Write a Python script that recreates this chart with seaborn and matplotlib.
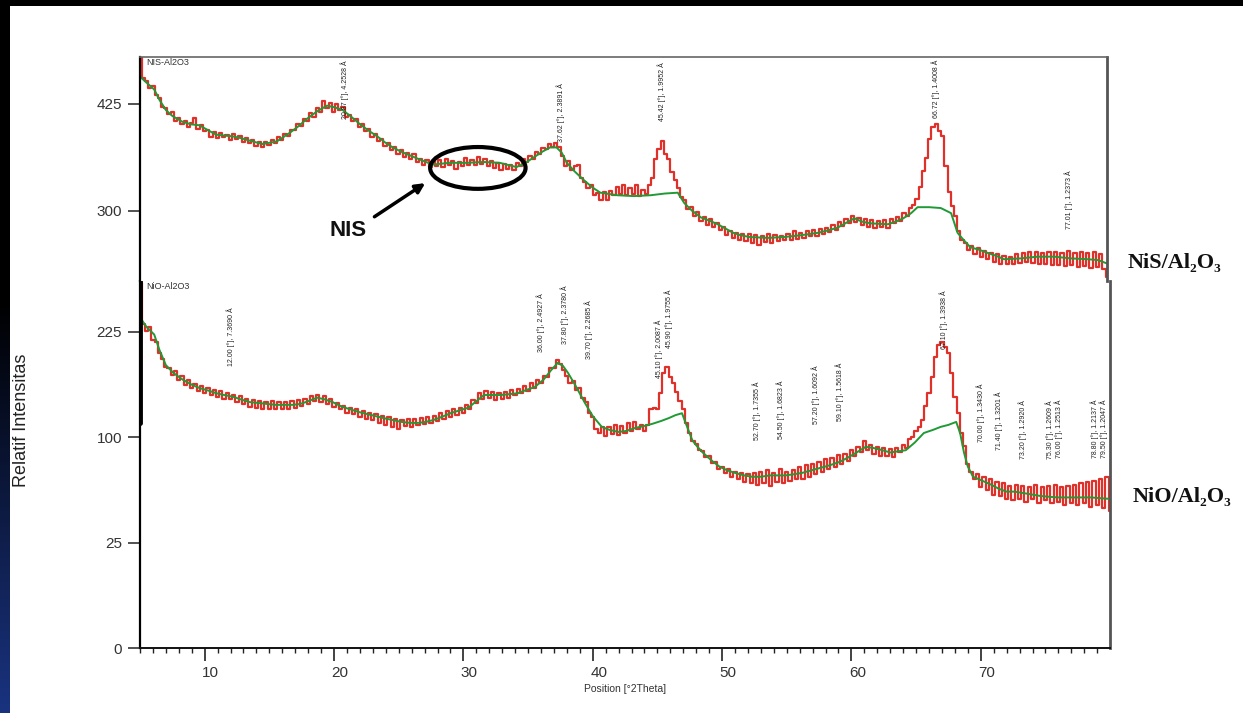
import numpy as np
import matplotlib
matplotlib.use("Agg")
import matplotlib.pyplot as plt
import seaborn as sns
import pandas as pd
from matplotlib.patches import Ellipse, Rectangle
from matplotlib.ticker import FixedLocator, MultipleLocator, NullLocator
import matplotlib.transforms as mtransforms

# ---------------- data ----------------
two_theta_start = 5.0
two_theta_step = 0.25

# NiS/Al2O3 observed counts (linear scale), 5.00 .. 80.00 deg every 0.25 deg
nis_observed = [
    490, 455, 452, 444,  446, 436, 432, 421,  420, 413, 415, 405,  409, 401, 405, 398,
    403, 408, 396, 400,  393, 394, 386, 392,  385, 391, 386, 389,  383, 390, 384, 387,
    380, 385, 379, 383,  376, 380, 375, 380,  377, 383, 379, 386,  383, 390, 388, 395,
    394, 401, 399, 407,  405, 414, 410, 420,  416, 428, 420, 426,  416, 425, 418, 421,
    410, 412, 405, 407,  398, 401, 393, 396,  386, 390, 382, 384,  376, 379, 371, 375,
    366, 371, 363, 367,  360, 366, 357, 361,  353, 359, 351, 358,  352, 359, 351, 360,
    353, 358, 349, 357,  352, 362, 354, 359,  353, 363, 355, 360,  352, 358, 350, 356,
    348, 355, 349, 353,  348, 356, 352, 360,  357, 364, 360, 369,  366, 373, 372, 378,
    375, 379, 374, 364,  352, 358, 348, 352,  354, 338, 334, 326,  330, 318, 321, 312,
    322, 313, 323, 318,  328, 320, 330, 318,  326, 319, 330, 317,  324, 320, 330, 338,
    360, 372, 381, 366,  360, 345, 336, 326,  316, 312, 302, 304,  294, 298, 288, 293,
    283, 290, 281, 285,  277, 281, 271, 276,  268, 274, 265, 273,  264, 272, 262, 271,
    260, 270, 263, 272,  262, 271, 264, 270,  265, 272, 266, 276,  267, 274, 268, 276,
    270, 277, 270, 279,  273, 280, 275, 283,  277, 287, 282, 290,  286, 294, 287, 291,
    283, 290, 281, 289,  280, 288, 281, 289,  280, 290, 285, 293,  288, 297, 294, 303,
    306, 314, 328, 346,  362, 384, 398, 402,  393, 388, 352, 322,  305, 294, 276, 266,
    262, 254, 259, 249,  256, 246, 253, 243,  250, 240, 249, 238,  247, 237, 246, 238,
    249, 239, 250, 240,  252, 239, 251, 238,  250, 237, 252, 236,  251, 236, 250, 235,
    253, 236, 250, 234,  252, 235, 250, 233,  251, 234, 249, 232,  222,
]

# NiS/Al2O3 fitted background (2theta, counts)
nis_background = [
    (5.0, 457), (5.5, 450), (6.1, 442), (6.5, 430), (7.0, 418), (7.5, 411), (8.3, 404),
    (9.0, 401), (9.6, 400), (10.3, 394), (10.9, 389), (11.5, 388), (12.2, 387), (12.8, 385),
    (13.5, 382), (14.5, 378), (15.6, 381), (16.6, 391), (17.3, 399), (17.9, 407), (18.7, 416),
    (19.5, 423), (20.1, 421), (20.7, 418), (21.3, 411), (22.0, 402), (22.7, 394), (23.4, 387),
    (24.0, 380), (24.6, 374), (25.4, 368), (26.2, 363), (27.0, 358), (27.7, 354), (28.4, 355),
    (29.0, 356), (30.4, 356), (31.6, 357), (32.9, 356), (34.2, 351), (34.9, 356), (35.5, 362),
    (36.2, 369), (36.8, 374), (37.3, 374), (37.7, 368), (38.1, 356), (38.7, 346), (39.4, 336),
    (40.1, 327), (40.7, 321), (42.0, 318), (43.3, 317), (44.6, 318), (45.7, 320), (46.7, 321),
    (47.2, 309), (47.8, 300), (48.5, 292), (49.2, 288), (49.8, 284), (50.4, 279), (51.0, 274),
    (51.6, 271), (52.3, 269), (53.7, 268), (54.9, 269), (56.2, 271), (57.6, 274), (58.4, 277),
    (59.1, 280), (59.8, 286), (60.4, 291), (61.0, 287), (61.7, 285), (63.0, 284), (63.6, 287),
    (64.2, 291), (64.8, 297), (65.3, 304), (66.2, 304), (67.1, 303), (67.9, 297), (68.4, 274),
    (68.9, 265), (69.4, 257), (70.1, 254), (70.8, 250), (71.4, 247), (72.0, 243), (73.3, 244),
    (74.6, 246), (75.9, 246), (77.2, 244), (78.5, 243), (79.3, 242), (80.0, 238),
]

# NiO/Al2O3 observed counts (square-root scale), 5.00 .. 80.00 deg every 0.25 deg
nio_observed = [
    300, 236, 226, 232,  214, 210, 196, 188,  178, 176, 168, 172,  162, 166, 156, 161,
    152, 157, 149, 155,  146, 152, 144, 150,  142, 149, 140, 146,  139, 144, 136, 143,
    134, 140, 131, 138,  130, 137, 129, 136,  129, 137, 128, 136,  129, 136, 128, 137,
    130, 138, 132, 140,  134, 143, 137, 144,  136, 143, 134, 139,  131, 135, 128, 132,
    124, 130, 123, 128,  120, 126, 118, 124,  117, 123, 114, 121,  112, 120, 110, 118,
    108, 117, 111, 118,  110, 118, 112, 119,  113, 120, 114, 121,  116, 124, 118, 126,
    120, 128, 122, 130,  124, 133, 128, 138,  135, 146, 140, 149,  141, 147, 138, 146,
    139, 148, 141, 150,  144, 151, 146, 154,  149, 158, 152, 161,  158, 167, 165, 176,
    176, 186, 181, 174,  166, 158, 160, 150,  152, 141, 136, 124,  120, 108, 104, 110,
    101, 110, 103, 112,  102, 111, 104, 114,  106, 115, 108, 112,  106, 112, 128, 130,
    129, 146, 170, 178,  165, 158, 148, 137,  128, 114, 104, 96,   94, 88, 87, 82,
    83, 77, 78, 72,      74, 69, 72, 66,      70, 64, 69, 62,      68, 61, 69, 60,
    70, 61, 71, 59,      69, 62, 72, 61,      70, 63, 71, 64,      74, 64, 75, 66,
    76, 68, 78, 70,      80, 72, 81, 74,      84, 76, 85, 79,      88, 83, 91, 86,
    96, 88, 93, 85,      91, 83, 90, 83,      89, 82, 90, 86,      93, 90, 98, 100,
    106, 110, 117, 132,  146, 165, 190, 206,  210, 204, 196, 170,  142, 124, 104, 92,
    76, 70, 64, 68,      58, 66, 56, 64,      53, 62, 52, 61,      50, 59, 49, 60,
    50, 59, 48, 58,      50, 60, 47, 58,      49, 59, 47, 60,      48, 58, 46, 59,
    47, 60, 46, 61,      47, 62, 45, 63,      46, 64, 44, 66,      42,
]

# NiO/Al2O3 fitted background (2theta, counts)
nio_background = [
    (5.0, 246), (5.5, 232), (6.1, 221), (6.5, 200), (7.0, 180), (7.6, 170), (8.3, 162),
    (9.0, 156), (9.6, 152), (10.3, 149), (10.9, 146), (11.5, 144), (12.2, 142), (12.8, 139),
    (13.5, 136), (14.2, 135), (14.8, 134), (15.5, 133), (16.1, 133), (16.8, 133), (17.4, 134),
    (18.0, 137), (18.7, 141), (19.3, 139), (19.9, 136), (20.6, 131), (21.3, 128), (22.0, 125),
    (22.6, 123), (23.2, 121), (23.8, 119), (24.5, 117), (25.2, 115), (25.9, 114), (26.5, 114),
    (27.1, 115), (27.7, 117), (28.3, 120), (29.0, 124), (29.7, 127), (30.4, 130), (31.0, 137),
    (31.6, 144), (32.3, 144), (32.9, 144), (33.6, 145), (34.2, 146), (34.9, 150), (35.5, 153),
    (36.2, 162), (36.8, 174), (37.3, 183), (37.7, 179), (38.1, 170), (38.7, 154), (39.4, 135),
    (40.0, 121), (40.7, 110), (41.3, 107), (42.0, 105), (42.6, 106), (43.3, 109), (44.0, 111),
    (44.6, 113), (45.3, 116), (45.9, 119), (46.4, 122), (46.9, 124), (47.3, 110), (47.7, 97),
    (48.1, 91), (48.5, 86), (49.2, 79), (49.8, 74), (50.4, 71), (51.0, 69), (51.7, 67),
    (52.3, 66), (53.0, 66), (53.7, 67), (54.3, 67), (54.9, 67), (55.6, 68), (56.2, 69),
    (56.9, 71), (57.6, 73), (58.3, 75), (59.1, 78), (59.8, 82), (60.4, 86), (61.1, 91),
    (61.7, 90), (62.4, 88), (63.0, 86), (63.6, 87), (64.2, 88), (64.9, 95), (65.6, 104),
    (66.3, 107), (66.9, 110), (67.5, 112), (68.1, 115), (68.4, 104), (68.7, 86), (69.0, 74),
    (69.4, 66), (70.1, 63), (70.8, 60), (71.4, 57), (72.0, 55), (72.6, 55), (73.3, 54),
    (74.6, 52), (75.9, 51), (77.2, 51), (78.5, 51), (80.0, 50),
]

# peak lists (2theta [deg], d-spacing [A])
nis_peak_pos = [20.87, 37.62, 45.42, 66.72, 77.01]
nis_peak_d = [4.2528, 2.3891, 1.9952, 1.4008, 1.2373]
nio_peak_pos = [12.00, 36.00, 37.80, 39.70, 45.10, 45.90, 52.70, 54.50, 57.20, 59.10,
                67.10, 70.00, 71.40, 73.20, 75.30, 76.00, 78.80, 79.50]
nio_peak_d = [7.3690, 2.4927, 2.3780, 2.2685, 2.0087, 1.9755, 1.7355, 1.6823, 1.6092, 1.5618,
              1.3938, 1.3430, 1.3201, 1.2920, 1.2609, 1.2513, 1.2137, 1.2047]

x_major = [10, 20, 30, 40, 50, 60, 70]
nis_yticks = [300, 425]
nio_yticks = [0, 25, 100, 225]

# ---------------- layout ----------------
# vertical placement of peak labels (axes fraction of label top)
nis_label_top = [0.987, 0.884, 0.978, 0.987, 0.496]
nio_label_top = [0.929, 0.967, 0.989, 0.948, 0.894, 0.978, 0.725, 0.730, 0.771, 0.777,
                 0.975, 0.722, 0.698, 0.676, 0.676, 0.676, 0.676, 0.676]

W, H = 1243, 713
sns.set_theme(style="white")
plt.rcParams["font.family"] = ["Liberation Sans", "DejaVu Sans"]
plt.rcParams["axes.linewidth"] = 1.2

RED = "#e0302a"
GREEN = "#1f9a35"

fig = plt.figure(figsize=(W / 100, H / 100), dpi=100, facecolor="white")

def fx(px):
    return px / W

def fy(py):
    return 1 - py / H

# slide frame: black top band and dark blue gradient on the left
fig.add_artist(Rectangle((0, fy(6)), 1, 6 / H, transform=fig.transFigure,
                         facecolor="black", edgecolor="none", zorder=0))
strip = fig.add_axes([0, 0, fx(10), 1])
t = np.linspace(0, 1, 256)
w = np.clip((t - 0.42) / 0.58, 0, 1)
grad = np.zeros((256, 1, 3))
grad[:, 0, 0] = 0.10 * w
grad[:, 0, 1] = 0.20 * w
grad[:, 0, 2] = 0.50 * w
strip.imshow(grad, aspect="auto", extent=[0, 1, 0, 1], origin="upper")
strip.set_axis_off()

# ---------------- lower panel (NiO/Al2O3, sqrt scale) ----------------
axL = fig.add_axes([fx(140), fy(648), fx(1110) - fx(140), fy(281) - fy(648)])
nio_x = two_theta_start + two_theta_step * np.arange(len(nio_observed))
df_nio = pd.DataFrame({"pos": nio_x, "cts": nio_observed})
bg_nio = pd.DataFrame(nio_background, columns=["pos", "cts"])
axL.set_yscale("function", functions=(lambda v: np.sqrt(np.clip(v, 0, None)), lambda s: s ** 2))
sns.lineplot(data=df_nio, x="pos", y="cts", ax=axL, color=RED, lw=1.6,
             drawstyle="steps-mid", legend=False, estimator=None)
sns.lineplot(data=bg_nio, x="pos", y="cts", ax=axL, color=GREEN, lw=1.4,
             legend=False, estimator=None)
axL.set_xlim(5, 79.99)
axL.set_ylim(0, 303)
axL.yaxis.set_major_locator(FixedLocator(nio_yticks))
axL.yaxis.set_minor_locator(NullLocator())
axL.set_yticklabels([str(v) for v in nio_yticks])
axL.xaxis.set_major_locator(FixedLocator(x_major))
axL.xaxis.set_minor_locator(MultipleLocator(1))
axL.set_xticklabels([str(v) for v in x_major])
axL.tick_params(axis="x", which="major", direction="out", length=9, width=1.2,
                color="#222222", labelsize=11, labelcolor="#333333", pad=4, bottom=True)
axL.tick_params(axis="x", which="minor", direction="out", length=3.5, width=1.0,
                color="#222222", bottom=True)
axL.tick_params(axis="y", which="major", direction="out", length=9, width=1.2,
                color="#333333", labelsize=11, labelcolor="#333333", pad=4, left=True)
offset = mtransforms.ScaledTranslation(6 / 100, 0, fig.dpi_scale_trans)
for lab in axL.get_xticklabels():
    lab.set_transform(lab.get_transform() + offset)
axL.set_xlabel("Position [°2Theta]", fontsize=7.5, color="#333333", labelpad=3)
axL.set_ylabel("")
axL.spines["top"].set_visible(False)
axL.spines["left"].set_color("black")
axL.spines["left"].set_linewidth(1.6)
axL.spines["bottom"].set_color("#111111")
axL.spines["bottom"].set_linewidth(1.4)
axL.spines["right"].set_color("#555555")
axL.spines["right"].set_linewidth(2.0)
axL.axvline(5, ymin=0.613, ymax=1.0, color="black", lw=3.5, zorder=5)
axL.set_facecolor("white")
axL.text(0.006, 0.997, "NiO-Al2O3", transform=axL.transAxes, fontsize=6.5,
         color="#333333", ha="left", va="top")
for pos, d, top in zip(nio_peak_pos, nio_peak_d, nio_label_top):
    axL.text(pos, top, f"{pos:.2f} [°], {d:.4f} Å",
             transform=mtransforms.blended_transform_factory(axL.transData, axL.transAxes),
             rotation=90, fontsize=5, color="#222222", ha="center", va="top")

# ---------------- upper panel (NiS/Al2O3, linear) ----------------
axU = fig.add_axes([fx(140), fy(281), fx(1107) - fx(140), fy(57) - fy(281)])
nis_x = two_theta_start + two_theta_step * np.arange(len(nis_observed))
df_nis = pd.DataFrame({"pos": nis_x, "cts": nis_observed})
bg_nis = pd.DataFrame(nis_background, columns=["pos", "cts"])
sns.lineplot(data=df_nis, x="pos", y="cts", ax=axU, color=RED, lw=1.6,
             drawstyle="steps-mid", legend=False, estimator=None)
sns.lineplot(data=bg_nis, x="pos", y="cts", ax=axU, color=GREEN, lw=1.4,
             legend=False, estimator=None)
axU.set_xlim(5, 79.99)
axU.set_ylim(217.5, 480)
axU.yaxis.set_major_locator(FixedLocator(nis_yticks))
axU.set_yticklabels([str(v) for v in nis_yticks])
axU.xaxis.set_major_locator(NullLocator())
axU.tick_params(axis="y", which="major", direction="out", length=9, width=1.2,
                color="#333333", labelsize=11, labelcolor="#333333", pad=4, left=True)
axU.set_xlabel("")
axU.set_ylabel("")
axU.spines["bottom"].set_visible(False)
axU.spines["left"].set_color("black")
axU.spines["left"].set_linewidth(1.6)
axU.spines["top"].set_color("#666666")
axU.spines["top"].set_linewidth(1.2)
axU.spines["right"].set_color("#555555")
axU.spines["right"].set_linewidth(2.0)
axU.set_facecolor("white")
axU.text(0.006, 0.995, "NIS-Al2O3", transform=axU.transAxes, fontsize=6.5,
         color="#333333", ha="left", va="top")
for pos, d, top in zip(nis_peak_pos, nis_peak_d, nis_label_top):
    axU.text(pos, top, f"{pos:.2f} [°], {d:.4f} Å",
             transform=mtransforms.blended_transform_factory(axU.transData, axU.transAxes),
             rotation=90, fontsize=5, color="#222222", ha="center", va="top")

# NIS annotation: circle, arrow and label
axU.add_patch(Ellipse((31.2, 350), width=7.4, height=49, fill=False,
                      edgecolor="black", lw=3, zorder=6))
axU.annotate("", xy=(27.3, 334), xytext=(23.0, 291),
             arrowprops=dict(arrowstyle="-|>", color="black", lw=2.5, mutation_scale=14),
             zorder=6)
axU.text(21.1, 277, "NIS", fontsize=16, fontweight="bold", color="#111111",
         ha="center", va="center", zorder=6)

# ---------------- outside texts ----------------
fig.text(fx(22), fy(420), "Relatif Intensitas", rotation=90, fontsize=13,
         color="#222222", ha="center", va="center")
fig.text(fx(1128), fy(263), "NiS/Al₂O₃", fontsize=16, fontweight="bold",
         family=["Liberation Serif", "DejaVu Serif"], color="#111111",
         ha="left", va="center")
fig.text(fx(1133), fy(497), "NiO/Al₂O₃", fontsize=16, fontweight="bold",
         family=["Liberation Serif", "DejaVu Serif"], color="#111111",
         ha="left", va="center")

fig.savefig("out.png", dpi=100, facecolor="white")
